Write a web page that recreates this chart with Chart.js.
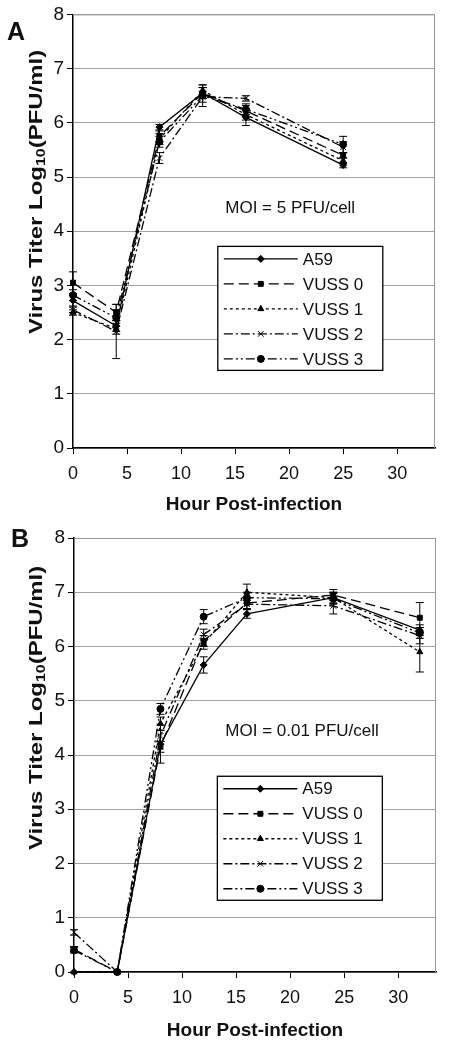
<!DOCTYPE html>
<html>
<head>
<meta charset="utf-8">
<script src="https://cdn.jsdelivr.net/npm/chart.js@4/dist/chart.umd.min.js"></script>
<style>
    body { margin: 0; background: #fff; }
    canvas { position: absolute; left: 0; }
    #chartA { top: 0; }
    #chartB { top: 520px; }
</style>
</head>
<body>
<canvas id="chartA" width="450" height="520"></canvas>
<canvas id="chartB" width="450" height="525"></canvas>
<script>
(function () {

    var seriesNames = ["A59", "VUSS 0", "VUSS 1", "VUSS 2", "VUSS 3"];
    var pointStyles = ["rectRot", "rect", "triangle", "crossRot", "circle"];
    var dashes = [[], [10, 5], [3, 3], [9, 3, 2, 3], [9, 3, 2, 3, 2, 3]];

    // panel A - MOI 5
    var hoursA = [0, 4, 8, 12, 16, 25];
    var a59A   = [2.72, 2.25, 5.92, 6.55, 6.10, 5.22];
    var vuss0A = [3.05, 2.50, 5.75, 6.55, 6.22, 5.40];
    var vuss1A = [2.50, 2.20, 5.70, 6.60, 6.15, 5.30];
    var vuss2A = [2.55, 2.15, 5.35, 6.48, 6.45, 5.55];
    var vuss3A = [2.82, 2.40, 5.65, 6.50, 6.25, 5.60];
    var errA59A   = [0.10, 0.10, 0.05, 0.10, 0.15, 0.05];
    var errVuss0A = [0.20, 0.15, 0.10, 0.10, 0.10, 0.05];
    var errVuss1A = [0.05, 0.10, 0.10, 0.10, 0.10, 0.05];
    var errVuss2A = [0.05, 0.50, 0.10, 0.10, 0.05, 0.10];
    var errVuss3A = [0.10, 0.15, 0.10, 0.20, 0.10, 0.15];

    // panel B - MOI 0.01
    var hoursB = [0, 4, 8, 12, 16, 24, 32];
    var a59B   = [0.00, 0, 4.20, 5.66, 6.60, 6.90, 6.30];
    var vuss0B = [0.42, 0, 4.15, 6.10, 6.80, 6.95, 6.53];
    var vuss1B = [0.00, 0, 4.58, 6.05, 7.00, 6.90, 5.90];
    var vuss2B = [0.73, 0, 4.35, 6.22, 6.78, 6.75, 6.20];
    var vuss3B = [0.40, 0, 4.85, 6.55, 6.90, 6.88, 6.25];
    var errA59B   = [0, 0, 0.35, 0.15, 0.08, 0.10, 0.10];
    var errVuss0B = [0.05, 0, 0.10, 0.10, 0.10, 0.10, 0.28];
    var errVuss1B = [0, 0, 0.12, 0.10, 0.15, 0.10, 0.37];
    var errVuss2B = [0.05, 0, 0.10, 0.10, 0.10, 0.15, 0.15];
    var errVuss3B = [0.05, 0, 0.10, 0.13, 0.10, 0.10, 0.10];

    var yTickLabels = ["0", "1", "2", "3", "4", "5", "6", "7", "8"];
    var xMax = 33.5;

    var FONT = "'Liberation Sans', Arial, sans-serif";

    function makeDatasets(hours, values, errors) {
        return values.map(function (vals, i) {
            return {
                label: seriesNames[i],
                data: vals.map(function (v, j) { return { x: hours[j], y: v }; }),
                errors: errors[i],
                borderColor: "#000",
                backgroundColor: "#000",
                borderWidth: 1.3,
                borderDash: dashes[i],
                pointStyle: pointStyles[i],
                pointRadius: i === 3 ? 4 : 3.5,
                pointBorderWidth: 1,
                pointBorderColor: "#000",
                pointBackgroundColor: "#000",
                tension: 0,
                clip: false
            };
        });
    }

    var errorBars = {
        id: "errorBars",
        afterDatasetsDraw: function (chart) {
            var ctx = chart.ctx, ys = chart.scales.y, xs = chart.scales.x;
            ctx.save();
            ctx.strokeStyle = "#000";
            ctx.lineWidth = 1;
            chart.data.datasets.forEach(function (ds) {
                ds.data.forEach(function (p, j) {
                    var e = ds.errors[j];
                    if (!e) return;
                    var px = xs.getPixelForValue(p.x);
                    var top = ys.getPixelForValue(p.y + e);
                    var bot = ys.getPixelForValue(Math.max(0, p.y - e));
                    ctx.beginPath();
                    ctx.moveTo(px, top); ctx.lineTo(px, bot);
                    ctx.moveTo(px - 4, top); ctx.lineTo(px + 4, top);
                    ctx.moveTo(px - 4, bot); ctx.lineTo(px + 4, bot);
                    ctx.stroke();
                });
            });
            ctx.restore();
        }
    };

    // frame, panel letter, y title, MOI note and the boxed legend
    var decor = {
        id: "decor",
        beforeDatasetsDraw: function (chart, args, opts) {
            var a = chart.chartArea, ctx = chart.ctx;
            ctx.save();
            ctx.strokeStyle = "#999";
            ctx.lineWidth = 1;
            ctx.beginPath();
            ctx.moveTo(a.left, a.top + 0.5);
            ctx.lineTo(a.right - 0.5, a.top + 0.5);
            ctx.lineTo(a.right - 0.5, a.bottom);
            ctx.stroke();
            ctx.restore();
        },
        afterDraw: function (chart, args, opts) {
            var a = chart.chartArea, ctx = chart.ctx;
            var w = a.right - a.left, h = a.bottom - a.top;
            ctx.save();
            ctx.fillStyle = "#111";

            // panel letter
            ctx.font = "bold 25px " + FONT;
            ctx.textBaseline = "alphabetic";
            ctx.textAlign = "left";
            ctx.fillText(opts.letter, opts.letterX, opts.letterY);

            // y title with subscript (the figure is stretched vertically)
            ctx.save();
            ctx.translate(37, opts.titleY);
            ctx.rotate(-Math.PI / 2);
            ctx.scale(1.33, 1);
            var p1 = "Virus Titer Log", sub = "10", p2 = "(PFU/ml)";
            ctx.font = "bold 18px " + FONT;
            var w1 = ctx.measureText(p1).width, w3 = ctx.measureText(p2).width;
            ctx.font = "bold 12px " + FONT;
            var w2 = ctx.measureText(sub).width;
            var sx = -(w1 + w2 + w3) / 2;
            ctx.textBaseline = "middle";
            ctx.font = "bold 18px " + FONT;
            ctx.fillText(p1, sx, 0);
            ctx.font = "bold 12px " + FONT;
            ctx.fillText(sub, sx + w1, 5);
            ctx.font = "bold 18px " + FONT;
            ctx.fillText(p2, sx + w1 + w2, 0);
            ctx.restore();

            // MOI note
            ctx.font = "17px " + FONT;
            ctx.textAlign = "center";
            ctx.textBaseline = "middle";
            ctx.fillText(opts.note, a.left + opts.noteX * w, a.top + opts.noteY * h);

            // legend box
            var lx = a.left + opts.legendX * w, ly = a.top + opts.legendY * h;
            var lw = 165, lh = 124;
            ctx.fillStyle = "#fff";
            ctx.fillRect(lx, ly, lw, lh);
            ctx.strokeStyle = "#000";
            ctx.lineWidth = 1.3;
            ctx.strokeRect(lx, ly, lw, lh);
            ctx.font = "17px " + FONT;
            ctx.textAlign = "left";
            chart.data.datasets.forEach(function (ds, i) {
                var yy = ly + 12.5 + i * 25;
                ctx.save();
                ctx.setLineDash(ds.borderDash);
                ctx.lineWidth = 1.3;
                ctx.beginPath();
                ctx.moveTo(lx + 6, yy);
                ctx.lineTo(lx + 80, yy);
                ctx.stroke();
                ctx.restore();
                ctx.fillStyle = "#000";
                ctx.strokeStyle = "#000";
                ctx.lineWidth = 1;
                Chart.helpers.drawPoint(ctx, { pointStyle: ds.pointStyle, radius: ds.pointRadius, rotation: 0, borderWidth: 1 }, lx + 43, yy);
                ctx.fillStyle = "#111";
                ctx.fillText(ds.label, lx + 85, yy + 1);
            });
            ctx.restore();
        }
    };

    function makeChart(id, hours, values, errors, axisSizes, decorOpts) {
        var ctx = document.getElementById(id).getContext("2d");
        return new Chart(ctx, {
            type: "line",
            data: { datasets: makeDatasets(hours, values, errors) },
            plugins: [errorBars, decor],
            options: {
                responsive: false,
                animation: false,
                layout: { padding: { top: axisSizes.top, right: axisSizes.right, left: 0, bottom: 0 } },
                plugins: {
                    legend: { display: false },
                    tooltip: { enabled: false },
                    decor: decorOpts
                },
                scales: {
                    x: {
                        type: "linear",
                        min: 0,
                        max: xMax,
                        afterFit: function (scale) { scale.height = axisSizes.xHeight; },
                        border: { color: "#000", width: 1.5 },
                        grid: { drawOnChartArea: false, tickLength: 6, color: "#000" },
                        ticks: {
                            stepSize: 5,
                            includeBounds: false,
                            padding: 9,
                            color: "#111",
                            font: { family: FONT, size: 18 }
                        },
                        title: {
                            display: true,
                            text: "Hour Post-infection",
                            color: "#111",
                            font: { family: FONT, size: 19, weight: "bold" },
                            padding: { top: 0, bottom: axisSizes.titlePad }
                        }
                    },
                    y: {
                        min: 0,
                        max: 8,
                        afterFit: function (scale) { scale.width = axisSizes.yWidth; },
                        border: { color: "#000", width: 1.5 },
                        grid: { color: "#a0a0a0", lineWidth: 1, tickLength: 6, tickColor: "#000" },
                        ticks: {
                            stepSize: 1,
                            padding: 3,
                            color: "#111",
                            font: { family: FONT, size: 19 },
                            callback: function (v) { return yTickLabels[v]; }
                        }
                    }
                }
            }
        });
    }

    makeChart("chartA", hoursA,
        [a59A, vuss0A, vuss1A, vuss2A, vuss3A],
        [errA59A, errVuss0A, errVuss1A, errVuss2A, errVuss3A],
        { top: 14, right: 15, xHeight: 72, yWidth: 73, titlePad: 4 },
        { letter: "A", letterX: 7, letterY: 40, titleY: 192, note: "MOI = 5 PFU/cell",
          noteX: 0.60, noteY: 0.448, legendX: 0.40, legendY: 0.535 });

    makeChart("chartB", hoursB,
        [a59B, vuss0B, vuss1B, vuss2B, vuss3B],
        [errA59B, errVuss0B, errVuss1B, errVuss2B, errVuss3B],
        { top: 18, right: 14, xHeight: 73, yWidth: 74, titlePad: 3 },
        { letter: "B", letterX: 11, letterY: 27, titleY: 188, note: "MOI = 0.01 PFU/cell",
          noteX: 0.63, noteY: 0.446, legendX: 0.396, legendY: 0.549 });

})();
</script>
</body>
</html>
